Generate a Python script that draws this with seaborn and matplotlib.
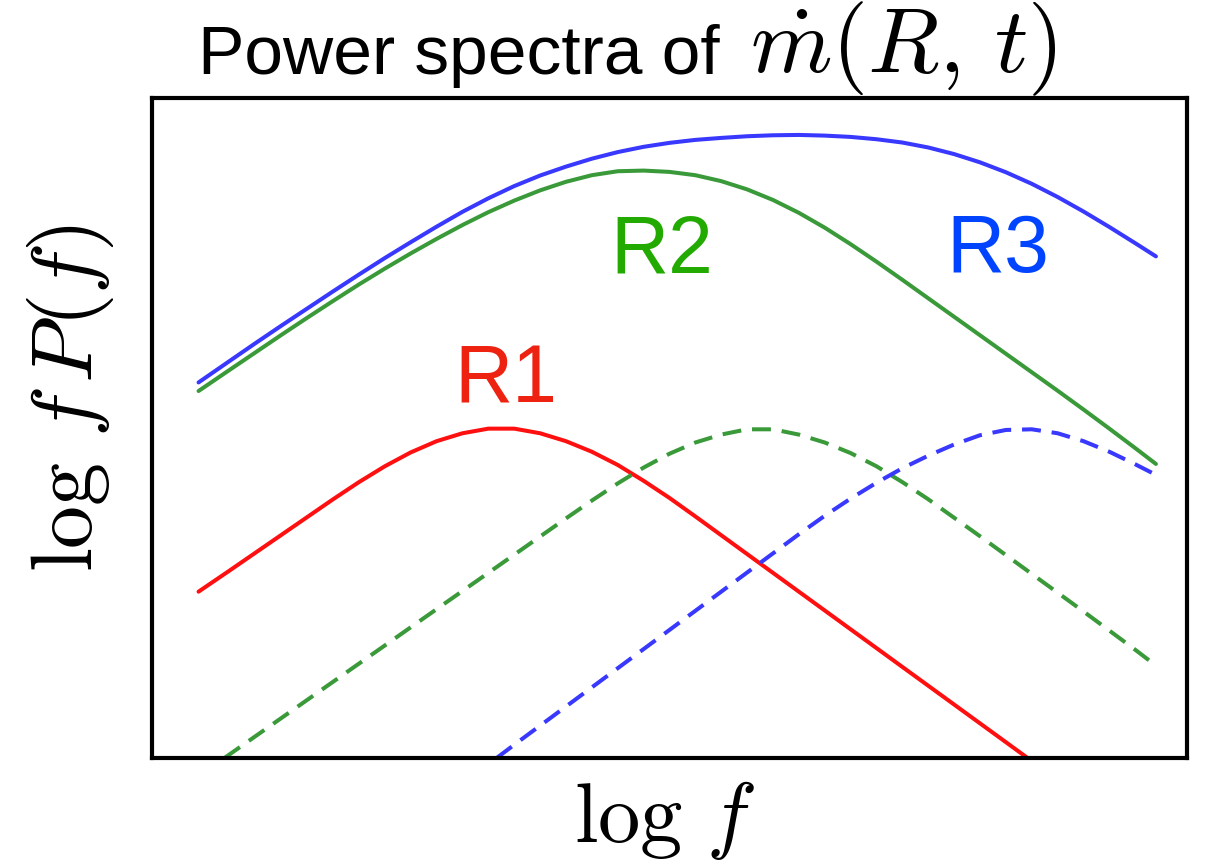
import matplotlib
matplotlib.use("Agg")
from matplotlib import pyplot as plt
import seaborn as sns

# schematic curves (arbitrary units, 0-100 on both axes)
grid_x = [4.5, 7.5, 10, 12.5, 15, 17.5, 20, 22.5, 25, 27.5, 30, 32.5, 35, 37.5, 40, 42.5, 45, 47.5,
          50, 52.5, 55, 57.5, 60, 62.5, 65, 67.5, 70, 72.5, 75, 77.5, 80, 82.5, 85, 87.5, 90, 92.5, 95, 97]

# R2 and R3 totals (solid)
r2_y = [55.6, 58.8, 61.45, 64.1, 66.7, 69.25, 71.75, 74.15, 76.45, 78.65, 80.75, 82.7, 84.45, 86.0,
        87.3, 88.3, 88.9, 89.0, 88.8, 88.3, 87.4, 86.15, 84.55, 82.6, 80.35, 77.85, 75.2, 72.45,
        69.65, 66.85, 64.05, 61.25, 58.45, 55.65, 52.8, 49.9, 46.95, 44.55]
r3_y = [56.9, 60.15, 62.85, 65.5, 68.1, 70.7, 73.25, 75.75, 78.15, 80.5, 82.75, 84.8, 86.65, 88.25,
        89.6, 90.8, 91.8, 92.6, 93.2, 93.65, 93.95, 94.2, 94.35, 94.4, 94.3, 94.1, 93.75, 93.25,
        92.5, 91.5, 90.25, 88.75, 87.0, 85.0, 82.8, 80.45, 78.0, 76.0]

# R1 (solid) and the local R2 / R3 parts (dashed)
r1_x = [4.5, 7.5, 10, 12.5, 15, 17.5, 20, 22.5, 25, 27.5, 30, 32.5, 35, 37.5, 40, 42.5, 45, 47.5,
        50, 52.5, 55, 57.5, 60, 62.5, 65, 67.5, 70, 72.5, 75, 77.5, 80, 82.5, 84.6]
r1_y = [25.2, 28.4, 31.1, 33.8, 36.5, 39.2, 41.8, 44.2, 46.3, 48.0, 49.2, 49.9, 49.9, 49.2, 48.0,
        46.4, 44.4, 42.0, 39.4, 36.6, 33.75, 30.9, 28.05, 25.2, 22.35, 19.5, 16.65, 13.8, 10.95,
        8.1, 5.25, 2.4, 0.0]

r2d_x = [7.0, 7.5, 10, 12.5, 15, 17.5, 20, 22.5, 25, 27.5, 30, 32.5, 35, 37.5, 40, 42.5, 45, 47.5,
         50, 52.5, 55, 57.5, 60, 62.5, 65, 67.5, 70, 72.5, 75, 77.5, 80, 82.5, 85, 87.5, 90, 92.5,
         95, 97]
r2d_y = [0.0, 0.55, 3.3, 6.05, 8.8, 11.55, 14.3, 17.05, 19.8, 22.55, 25.3, 28.05, 30.8, 33.55, 36.3,
         39.0, 41.6, 44.0, 46.1, 47.8, 49.0, 49.8, 49.8, 49.0, 47.8, 46.2, 44.2, 41.8, 39.2, 36.4,
         33.6, 30.75, 27.9, 25.05, 22.2, 19.3, 16.4, 14.0]

r3d_x = [33.3, 35, 37.5, 40, 42.5, 45, 47.5, 50, 52.5, 55, 57.5, 60, 62.5, 65, 67.5, 70, 72.5, 75,
         77.5, 80, 82.5, 85, 87.5, 90, 92.5, 95, 97]
r3d_y = [0.0, 2.0, 4.9, 7.8, 10.7, 13.6, 16.5, 19.4, 22.3, 25.2, 28.1, 31.0, 33.9, 36.7, 39.3, 41.7,
         43.9, 45.8, 47.5, 48.9, 49.7, 49.8, 49.2, 48.0, 46.4, 44.5, 42.9]

labels = ["R1", "R2", "R3"]
label_x = [34.2, 49.3, 81.7]
label_y = [53.9, 73.6, 73.6]

red = "#ff1010"
green = "#3a9a3a"
blue = "#3838ff"
label_colors = ["#ee2211", "#22aa00", "#0044ff"]

sns.set_style("white")
plt.rcParams["mathtext.fontset"] = "cm"
plt.rcParams["font.family"] = ["Liberation Sans", "DejaVu Sans"]

fig = plt.figure(figsize=(12.08, 8.64), dpi=100)
ax = fig.add_axes([0.1258, 0.1227, 0.8568, 0.7639])

lw = 2.9
dash = (4.7, 2.7)
sns.lineplot(x=r1_x, y=r1_y, color=red, lw=lw, ax=ax, sort=False)
sns.lineplot(x=r2d_x, y=r2d_y, color=green, lw=lw, ax=ax, sort=False)
ax.lines[-1].set_dashes(dash)
sns.lineplot(x=r3d_x, y=r3d_y, color=blue, lw=lw, ax=ax, sort=False)
ax.lines[-1].set_dashes(dash)
sns.lineplot(x=grid_x, y=r2_y, color=green, lw=lw, ax=ax, sort=False)
sns.lineplot(x=grid_x, y=r3_y, color=blue, lw=lw, ax=ax, sort=False)
for ln in ax.lines:
    ln.set_solid_joinstyle("round")
    ln.set_dash_joinstyle("round")

for lab, lx, ly, c in zip(labels, label_x, label_y, label_colors):
    ax.text(lx, ly, lab, color=c, fontsize=58, ha="center", va="baseline")

ax.set_xlim(0, 100)
ax.set_ylim(0, 100)
ax.set_xticks([])
ax.set_yticks([])
for s in ax.spines.values():
    s.set_color("black")
    s.set_linewidth(3)

# title: sans text followed by a larger math part
fig.text(198 / 1208, 1 - 74 / 864, "Power spectra of", fontsize=50, color="black",
         ha="left", va="baseline")
fig.text(750 / 1208, 1 - 72 / 864, r"$\dot{m}(R,\,t)$", fontsize=67, color="black",
         ha="left", va="baseline")

fig.text(665 / 1208, 1 - 820 / 864, r"$\log\,f$", fontsize=61, color="black",
         ha="center", va="center")
fig.text(70 / 1208, 1 - 398 / 864, r"$\log\,f\,P(f)$", fontsize=62, color="black",
         ha="center", va="center", rotation=90)

fig.savefig("out.png", dpi=100)
